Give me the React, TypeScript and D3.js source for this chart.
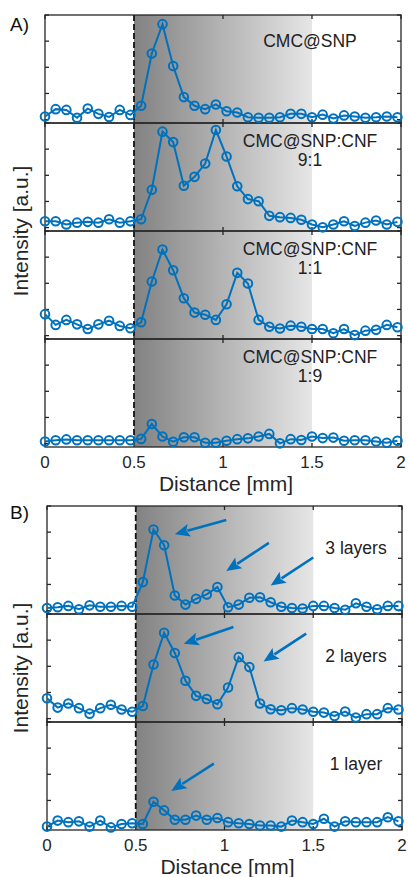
import React, { useEffect, useRef } from "react";
import * as d3 from "d3";

// sampling positions along the line profile [mm]
const distance = [
    0, 0.06, 0.12, 0.18, 0.24, 0.3, 0.36, 0.42, 0.48, 0.54, 0.6, 0.66, 0.72, 0.78, 0.84, 0.9, 0.96,
    1.02, 1.08, 1.14, 1.2, 1.26, 1.32, 1.38, 1.44, 1.5, 1.56, 1.62, 1.68, 1.74, 1.8, 1.86, 1.92, 1.98,
];

// A) intensity profiles
const cmcSnp = [0.12, 0.4, 0.37, 0.07, 0.42, 0.22, 0.1, 0.37, 0.18, 0.53, 2.53, 3.65, 2.05, 0.86, 0.53, 0.4, 0.58, 0.32, 0.27, 0.09, 0.07, 0.07, 0.09, 0.22, 0.22, 0.09, 0.19, 0.04, 0.16, 0.12, 0.07, 0.09, 0.12, 0.09];
const cnf91 = [0.24, 0.24, 0.12, 0.19, 0.22, 0.19, 0.32, 0.19, 0.24, 0.32, 1.45, 3.67, 3.27, 1.6, 1.94, 2.45, 3.73, 2.72, 1.58, 1.09, 1.01, 0.45, 0.4, 0.37, 0.3, 0.12, 0.01, 0.12, 0.24, 0.06, 0.19, 0.27, 0.12, 0.22];
const cnf11 = [0.82, 0.41, 0.6, 0.43, 0.25, 0.43, 0.57, 0.37, 0.28, 0.51, 2.07, 3.29, 2.5, 1.43, 0.88, 0.8, 0.6, 1.2, 2.4, 1.99, 0.6, 0.34, 0.27, 0.38, 0.34, 0.25, 0.25, 0.09, 0.25, 0.02, 0.19, 0.22, 0.41, 0.32];
const cnf19 = [0.08, 0.13, 0.16, 0.13, 0.13, 0.13, 0.13, 0.13, 0.13, 0.18, 0.75, 0.27, 0.07, 0.24, 0.24, 0.03, 0.03, 0.11, 0.17, 0.2, 0.27, 0.37, 0.01, 0.17, 0.14, 0.27, 0.21, 0.23, 0.11, 0.13, 0.13, 0.08, 0.03, 0.11];

// B) intensity profiles
const layers3 = [0.1, 0.13, 0.18, 0.05, 0.2, 0.15, 0.15, 0.18, 0.15, 1.09, 3.1, 2.5, 0.58, 0.23, 0.45, 0.62, 0.9, 0.13, 0.23, 0.49, 0.51, 0.32, 0.15, 0.1, 0.08, 0.18, 0.18, 0.1, 0.03, 0.28, 0.15, 0.05, 0.18, 0.18];
const layers2 = [0.78, 0.42, 0.58, 0.4, 0.19, 0.4, 0.53, 0.35, 0.26, 0.48, 2.07, 3.28, 2.51, 1.45, 0.87, 0.75, 0.55, 1.19, 2.35, 1.97, 0.58, 0.36, 0.32, 0.4, 0.35, 0.26, 0.23, 0.1, 0.27, 0.04, 0.17, 0.17, 0.4, 0.35];
const layer1 = [0, 0.23, 0.17, 0.2, 0, 0.23, -0.03, 0.1, 0.13, 0.1, 0.95, 0.62, 0.26, 0.26, 0.42, 0.26, 0.33, 0.17, 0.13, 0.1, 0.04, 0.04, 0, 0.23, 0.17, 0.1, 0.3, 0, 0.2, 0.17, 0.17, 0.17, 0.36, 0.2];

const labelsA = [["CMC@SNP"], ["CMC@SNP:CNF", "9:1"], ["CMC@SNP:CNF", "1:1"], ["CMC@SNP:CNF", "1:9"]];
const labelsB = [["3 layers"], ["2 layers"], ["1 layer"]];

// arrows [x1, y1, x2, y2] in data units (tail -> tip)
const arrows3 = [[1.01, 3.46, 0.72, 2.92], [1.25, 2.59, 1.01, 1.51], [1.5, 2.03, 1.26, 0.96]];
const arrows2 = [[1.05, 3.5, 0.77, 2.86], [1.46, 3.25, 1.22, 2.18]];
const arrows1 = [[0.94, 2.41, 0.7, 1.36]];

const xTicks = [0, 0.5, 1, 1.5, 2];
const yTicks = [0, 1, 2, 3, 4];

const BLUE = "#0072BD";
const AXIS = "#262626";
const FONT = "'Liberation Sans', Arial, sans-serif";

function App() {
    const ref = useRef<SVGSVGElement>(null);

    useEffect(() => {
        const svg = d3.select(ref.current);
        svg.selectAll("*").remove();

        const grad = svg.append("defs").append("linearGradient")
            .attr("id", "shade")
            .attr("x1", "0%").attr("x2", "100%").attr("y1", "0%").attr("y2", "0%");
        grad.append("stop").attr("offset", "0%").attr("stop-color", "#828282");
        grad.append("stop").attr("offset", "100%").attr("stop-color", "#e6e6e6");

        function drawGroup(cfg) {
            const { left, right, top, panelH, series, labels, labelX, labelDy, arrows, tag, tagY } = cfg;
            const bottom = top + series.length * panelH;
            const x = d3.scaleLinear().domain([0, 2]).range([left, right]);
            const g = svg.append("g");

            g.append("rect")
                .attr("x", x(0.5)).attr("y", top)
                .attr("width", x(1.5) - x(0.5)).attr("height", bottom - top)
                .attr("fill", "url(#shade)");

            g.append("line")
                .attr("x1", x(0.5)).attr("x2", x(0.5)).attr("y1", top).attr("y2", bottom)
                .attr("stroke", "#111").attr("stroke-width", 1.8).attr("stroke-dasharray", "6,3");

            const scales = series.map((_, i) => {
                const pTop = top + i * panelH;
                return d3.scaleLinear().domain([-0.13, 4]).range([pTop + panelH, pTop]);
            });

            // frames and ticks
            series.forEach((_, i) => {
                const pTop = top + i * panelH;
                const pBot = pTop + panelH;
                const y = scales[i];
                const p = g.append("g");
                p.append("rect")
                    .attr("x", left).attr("y", pTop).attr("width", right - left).attr("height", panelH)
                    .attr("fill", "none").attr("stroke", AXIS).attr("stroke-width", 1.3);
                xTicks.forEach((t) => {
                    p.append("line").attr("x1", x(t)).attr("x2", x(t)).attr("y1", pTop).attr("y2", pTop + 4)
                        .attr("stroke", AXIS).attr("stroke-width", 1.3);
                    p.append("line").attr("x1", x(t)).attr("x2", x(t)).attr("y1", pBot - 4).attr("y2", pBot)
                        .attr("stroke", AXIS).attr("stroke-width", 1.3);
                });
                yTicks.forEach((t) => {
                    p.append("line").attr("x1", left).attr("x2", left + 4).attr("y1", y(t)).attr("y2", y(t))
                        .attr("stroke", AXIS).attr("stroke-width", 1.3);
                    p.append("line").attr("x1", right - 4).attr("x2", right).attr("y1", y(t)).attr("y2", y(t))
                        .attr("stroke", AXIS).attr("stroke-width", 1.3);
                });
            });

            // data
            series.forEach((vals, i) => {
                const y = scales[i];
                const line = d3.line<number>().x((_, j) => x(distance[j])).y((d) => y(d));
                g.append("path").attr("d", line(vals))
                    .attr("fill", "none").attr("stroke", BLUE).attr("stroke-width", 2);
                g.selectAll(null).data(vals).enter().append("circle")
                    .attr("cx", (_, j) => x(distance[j])).attr("cy", (d) => y(d)).attr("r", 4.3)
                    .attr("fill", "none").attr("stroke", BLUE).attr("stroke-width", 2);

                const lines = labels[i];
                const pTop = top + i * panelH;
                lines.forEach((txt, k) => {
                    const dy = lines.length === 1 ? labelDy[0] : labelDy[1] + k * 19;
                    g.append("text").attr("x", labelX).attr("y", pTop + dy)
                        .attr("text-anchor", "middle").attr("font-family", FONT).attr("font-size", 17.5)
                        .attr("fill", "#222").text(txt);
                });

                (arrows[i] || []).forEach(([x1, y1, x2, y2]) => {
                    const ax = x(x1), ay = y(y1), bx = x(x2), by = y(y2);
                    const len = Math.hypot(bx - ax, by - ay);
                    const ux = (bx - ax) / len, uy = (by - ay) / len;
                    const hl = 15, hw = 6.5;
                    const baseX = bx - ux * hl, baseY = by - uy * hl;
                    g.append("line").attr("x1", ax).attr("y1", ay).attr("x2", baseX + ux * 2).attr("y2", baseY + uy * 2)
                        .attr("stroke", BLUE).attr("stroke-width", 2.6);
                    g.append("path")
                        .attr("d", `M${bx},${by}L${baseX - uy * hw},${baseY + ux * hw}L${baseX + ux * 3},${baseY + uy * 3}L${baseX + uy * hw},${baseY - ux * hw}Z`)
                        .attr("fill", BLUE);
                });
            });

            // bottom tick labels
            xTicks.forEach((t) => {
                g.append("text").attr("x", x(t)).attr("y", bottom + 20.5)
                    .attr("text-anchor", "middle").attr("font-family", FONT).attr("font-size", 17)
                    .attr("fill", AXIS).text(String(t));
            });

            g.append("text").attr("x", (left + right) / 2 + 3).attr("y", bottom + 43.5)
                .attr("text-anchor", "middle").attr("font-family", FONT).attr("font-size", 21)
                .attr("fill", AXIS).text("Distance [mm]");

            g.append("text")
                .attr("transform", `translate(28,${(top + bottom) / 2}) rotate(-90)`)
                .attr("text-anchor", "middle").attr("font-family", FONT).attr("font-size", 21)
                .attr("fill", AXIS).text("Intensity [a.u.]");

            g.append("text").attr("x", 10).attr("y", tagY)
                .attr("font-family", FONT).attr("font-size", 19).attr("fill", "#111").text(tag);
        }

        drawGroup({
            left: 45, right: 401, top: 15, panelH: 108,
            series: [cmcSnp, cnf91, cnf11, cnf19],
            labels: labelsA, labelX: 310, labelDy: [32, 23.5],
            arrows: [],
            tag: "A)", tagY: 31,
        });

        drawGroup({
            left: 47, right: 402, top: 506, panelH: 108,
            series: [layers3, layers2, layer1],
            labels: labelsB, labelX: 356, labelDy: [47.5, 47.5],
            arrows: [arrows3, arrows2, arrows1],
            tag: "B)", tagY: 519,
        });
    }, []);

    return (
        <svg
            ref={ref}
            width={408}
            height={877}
            style={{ position: "absolute", left: 0, top: 0, background: "#fff" }}
        />
    );
}

export default App;
